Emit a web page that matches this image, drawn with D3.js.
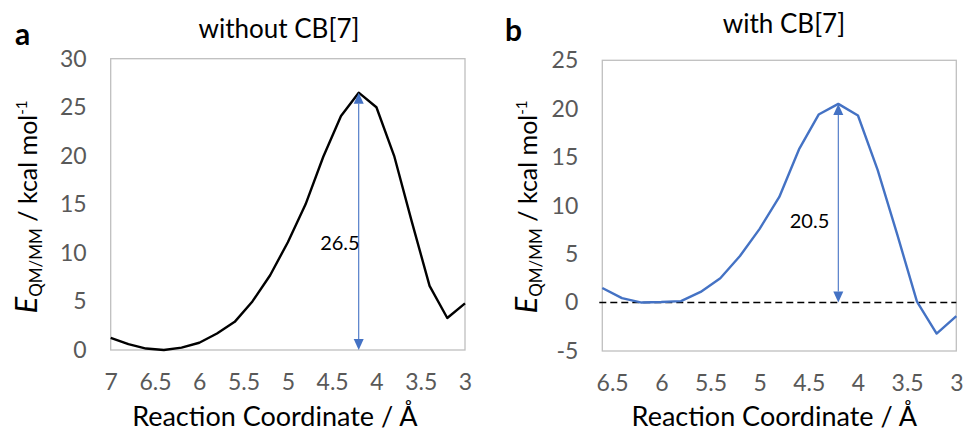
<!DOCTYPE html>
<html>
<head>
<meta charset="utf-8">
<script src="https://cdn.jsdelivr.net/npm/d3@7"></script>
<style>
  body { margin: 0; background: #fff; }
  #chart { width: 963px; height: 434px; }
  text { font-family: Lato, "Open Sans", sans-serif; }
</style>
</head>
<body>
<div id="chart"></div>
<script>
//Datos
const coordA = [7.0, 6.8, 6.6, 6.4, 6.2, 6.0, 5.8, 5.6, 5.4, 5.2, 5.0, 4.8, 4.6, 4.4, 4.2, 4.0, 3.8, 3.6, 3.4, 3.2, 3.0];
const energyA = [1.25, 0.6, 0.15, 0.0, 0.25, 0.75, 1.7, 2.9, 5.0, 7.7, 11.1, 15.0, 19.9, 24.1, 26.5, 25.0, 20.0, 13.2, 6.6, 3.3, 4.8];
const coordB = [6.6, 6.4, 6.2, 6.0, 5.8, 5.6, 5.4, 5.2, 5.0, 4.8, 4.6, 4.4, 4.2, 4.0, 3.8, 3.6, 3.4, 3.2, 3.0];
const energyB = [1.5, 0.45, 0.0, 0.05, 0.15, 1.1, 2.5, 4.8, 7.6, 10.9, 15.8, 19.4, 20.5, 19.3, 13.7, 7.0, 0.1, -3.2, -1.4];
const ticksXA = [7, 6.5, 6, 5.5, 5, 4.5, 4, 3.5, 3];
const ticksXB = [6.5, 6, 5.5, 5, 4.5, 4, 3.5, 3];
const ticksYA = [0, 5, 10, 15, 20, 25, 30];
const ticksYB = [-5, 0, 5, 10, 15, 20, 25];
const barrierAt = [4.2, 4.2];
const barriers = [26.5, 20.5];
const titles = ['without CB[7]', 'with CB[7]'];
const letters = ['a', 'b'];

const COLOR_BLUE = '#4472C4', COLOR_TICK = '#595959', COLOR_FRAME = '#BFBFBF';

let svg = d3.select('#chart').append('svg')
    .attr('width', 963).attr('height', 434);

function drawPanel(p) {
    let x = d3.scaleLinear().domain(p.xDomain).range([p.left, p.right]);
    let y = d3.scaleLinear().domain(p.yDomain).range([p.bottom, p.top]);
    let g = svg.append('g');

    //Marco
    g.append('rect')
        .attr('x', p.left).attr('y', p.top)
        .attr('width', p.right - p.left).attr('height', p.bottom - p.top)
        .attr('fill', 'none').attr('stroke', COLOR_FRAME).attr('stroke-width', 1.3);

    //Ejes
    let xAxis = d3.axisBottom(x).tickValues(p.xTicks).tickSize(0).tickPadding(24).tickFormat(d3.format(''));
    g.append('g').attr('transform', 'translate(0,' + p.bottom + ')').call(xAxis)
        .call(function(a){ a.select('.domain').remove(); })
        .selectAll('text').attr('fill', COLOR_TICK).style('font-size', '23px').style('font-family', 'Lato');

    let yAxis = d3.axisLeft(y).tickValues(p.yTicks).tickSize(0).tickPadding(24);
    g.append('g').attr('transform', 'translate(' + p.left + ',0)').call(yAxis)
        .call(function(a){ a.select('.domain').remove(); })
        .selectAll('text').attr('fill', COLOR_TICK).style('font-size', '23px').style('font-family', 'Lato')
        .text(function(d){ return d < 0 ? '-' + Math.abs(d) : d; });

    //Linea de cero
    if (p.zeroLine) {
        g.append('line')
            .attr('x1', p.left - 3).attr('x2', p.right)
            .attr('y1', y(0)).attr('y2', y(0))
            .attr('stroke', '#000').attr('stroke-width', 1.5).attr('stroke-dasharray', '7,4');
    }

    //Curva
    let line = d3.line().x(function(d){ return x(d[0]); }).y(function(d){ return y(d[1]); });
    g.append('path')
        .datum(d3.zip(p.xs, p.ys))
        .attr('d', line)
        .attr('fill', 'none').attr('stroke', p.color).attr('stroke-width', 2.4)
        .attr('stroke-linejoin', 'round');

    //Flecha de barrera
    let ax = x(p.barrierAt), y0 = y(0), y1 = y(p.barrier), hw = 5, hh = 11;
    g.append('line').attr('x1', ax).attr('x2', ax).attr('y1', y0 - hh).attr('y2', y1 + hh)
        .attr('stroke', COLOR_BLUE).attr('stroke-width', 1.1);
    g.append('path').attr('d', 'M' + ax + ',' + y1 + 'L' + (ax - hw) + ',' + (y1 + hh) + 'L' + (ax + hw) + ',' + (y1 + hh) + 'Z')
        .attr('fill', COLOR_BLUE);
    g.append('path').attr('d', 'M' + ax + ',' + y0 + 'L' + (ax - hw) + ',' + (y0 - hh) + 'L' + (ax + hw) + ',' + (y0 - hh) + 'Z')
        .attr('fill', COLOR_BLUE);
    g.append('text')
        .attr('x', ax + p.labelDx).attr('y', y(p.labelAt))
        .attr('text-anchor', 'end').attr('dominant-baseline', 'middle')
        .style('font-size', '20px').attr('fill', '#000')
        .text(p.barrier.toFixed(1));

    //Titulos
    g.append('text').attr('x', p.titleX).attr('y', p.titleY).attr('text-anchor', 'middle')
        .style('font-size', '26px').attr('fill', '#000').text(p.title);
    g.append('text').attr('x', p.letterX).attr('y', p.letterY)
        .style('font-size', '30px').style('font-weight', 'bold').attr('fill', '#000').text(p.letter);

    g.append('text').attr('x', (p.left + p.right) / 2 + p.xTitleDx).attr('y', 426).attr('text-anchor', 'middle')
        .style('font-size', '27px').attr('fill', '#000').text('Reaction Coordinate / Å');

    let yt = g.append('text')
        .attr('transform', 'translate(' + p.yTitleX + ',' + p.yTitleY + ') rotate(-90)')
        .attr('text-anchor', 'middle').style('font-size', '25px').attr('fill', '#000');
    yt.append('tspan').style('font-style', 'italic').style('font-size', '31px').text('E');
    yt.append('tspan').attr('dy', 5).style('font-size', '17px').text('QM/MM');
    yt.append('tspan').attr('dy', -5).text(' / kcal mol');
    yt.append('tspan').attr('dy', -10).style('font-size', '15px').text('-1');
}

drawPanel({
    xs: coordA, ys: energyA, xTicks: ticksXA, yTicks: ticksYA,
    xDomain: [7, 3], yDomain: [0, 30],
    left: 110.7, right: 465, top: 58.7, bottom: 350,
    color: '#000', zeroLine: false,
    barrierAt: barrierAt[0], barrier: barriers[0], labelAt: 10.8, labelDx: 1,
    title: titles[0], titleX: 279, titleY: 38, letter: letters[0], letterX: 15, letterY: 45,
    xTitleDx: -13, yTitleX: 37, yTitleY: 207
});

drawPanel({
    xs: coordB, ys: energyB, xTicks: ticksXB, yTicks: ticksYB,
    xDomain: [6.6, 3], yDomain: [-5, 25],
    left: 602.3, right: 956.3, top: 60.3, bottom: 351,
    color: COLOR_BLUE, zeroLine: true,
    barrierAt: barrierAt[1], barrier: barriers[1], labelAt: 8.2, labelDx: -9,
    title: titles[1], titleX: 784, titleY: 33, letter: letters[1], letterX: 505, letterY: 41,
    xTitleDx: -5, yTitleX: 537, yTitleY: 207
});
</script>
</body>
</html>
